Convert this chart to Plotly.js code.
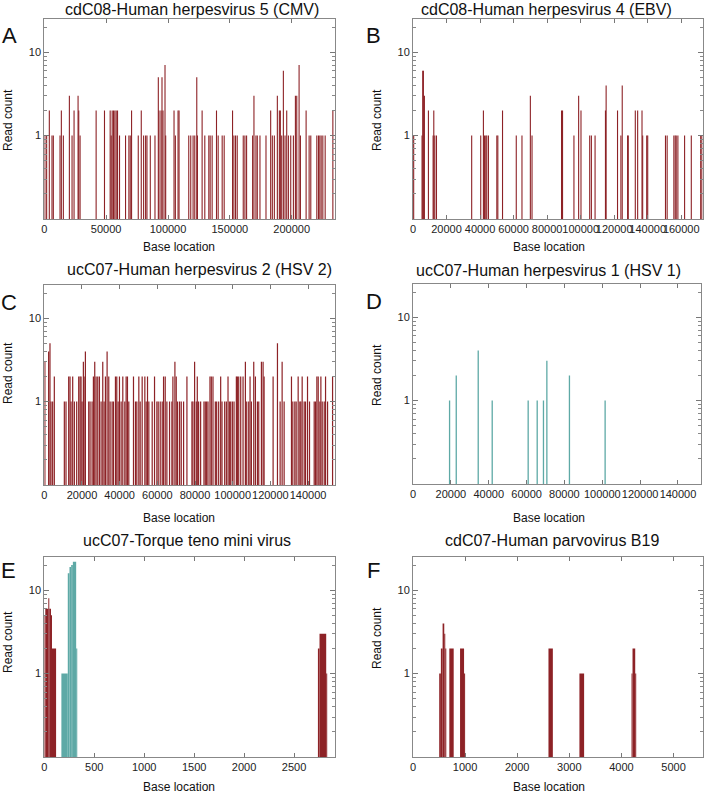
<!DOCTYPE html>
<html><head><meta charset="utf-8">
<script src="https://cdn.plot.ly/plotly-3.0.1.min.js"></script>
<style>html,body{margin:0;padding:0;background:#fff}#chart{width:707px;height:793px}</style>
</head><body><div id="chart"></div>
<script>
// ---------- DATA ----------
// A: cdC08 - Human herpesvirus 5 (CMV)
const cmvPos = [500,1892,4055,6217,7298,12704,13785,15407,20273,22435,24057,27300,27841,28922,41897,48654,53249,54060,54871,55952,57033,58115,59196,60818,65683,68386,69467,70548,75954,78387,80279,81901,82982,85685,89469,92172,92713,94335,95146,95957,97578,98119,104876,105958,108120,108931,116770,118391,120284,121635,123257,123797,127581,129744,132987,134069,135690,139204,140556,143800,145421,152179,153260,154612,155963,160829,162180,163532,168397,169478,171100,172181,174344,179209,182993,184345,185967,188399,190021,190832,191913,193265,194616,195968,197319,199211,201374,202996,204077,205969,207050,211645,214078,215429,220295,221646,222727,223808,225160,227052,233269];
const cmvCount = [1,1,2,1,1,1,2,1,3,1, 2,3,2,1,2,2,2,1,2,2, 2,2,2,1,1,1,1,2,1,2, 1,1,1,1,1,5,2,2,5,2, 7,1,2,1,2,2,1,1,1,1, 5,1,2,1,1,1,1,2,1,1, 1,2,1,1,1,1,1,1,1,3, 1,1,1,1,2,1,1,3,2,2, 1,6,1,2,1,1,1,3,3,7, 1,2,1,1,1,1,1,1,1,1, 2];

// B: cdC08 - Human herpesvirus 4 (EBV)
const ebvPos = [400,5400,5800,6200,6800,9200,12000,12400,13000,14000,35000,40400,42000,42600,43400,44000,45000,50000,50600,53400,61600,65000,70000,71000,88600,89200,96000,98800,100200,105400,106400,108600,114800,115200,122000,124000,124800,128000,128400,132600,134000,136600,137000,139400,140000,150600,151600,155600,156400,157000,158000,162000,166000,171600,172300];
const ebvCount = [1,1,6,6,3, 2,1,2,1,1, 1,1,2,1,1, 1,1,1,1,2, 1,1,3,1,2, 2,1,3,2,1, 1,1,2,4,2, 1,4,1,1,2, 2,2,1,1,1, 1,1,1,1,1, 1,1,1,1,1];

// C: ucC07 - Human herpesvirus 2 (HSV 2)
const hsv2Pos = [300,2305,3014,3546,4432,5319,10638,11524,12943,13652,
  14184,15071,15957,17198,18262,18971,19503,20035,20744,21099,
  21808,23581,24290,25354,26063,26772,27482,28368,29255,30141,
  31028,31737,32446,33333,34219,34928,35992,36701,37765,38474,
  39183,39893,40779,41666,42729,43439,44148,44857,47339,48403,
  49112,50176,50885,51949,53367,54076,54786,55495,57268,58509,
  59750,60459,61523,62587,63296,64182,65069,66488,67729,68261,
  69324,70034,70743,71807,72693,73934,75707,
  78366,78898,79785,80671,81203,81913,82976,84749,85459,86168,
  86877,87941,88650,89537,90778,91487,92551,93614,94324,95742,
  96629,97515,98224,98933,99820,100707,101948,102480,103189,104252,
  105493,106735,107444,108508,109217,109926,111167,112054,113118,113827,
  115245,116132,116664,121451,123756,125174,126238,127302,131202,131911,
  132975,133685,134748,135635,136166,136875,137939,138649,139712,140776,
  143258,143967,144677,145386,146273,146804,147513,148577,149286,150350,
  153010];
const hsv2Count = [3,4,5,1,1,2,1,1,2,2,
  1,2,1,1,2,2,2,1,3,2,
  4,1,1,1,2,3,2,2,2,1,
  3,1,2,4,2,1,1,1,2,2,
  1,2,1,2,1,2,2,1,2,1,
  1,2,1,2,2,1,2,1,1,2,
  1,1,1,1,2,2,1,1,1,2,
  3,2,1,1,1,1,2,
  1,1,3,1,2,1,1,1,1,1,
  1,2,2,2,1,1,1,2,1,1,
  1,2,1,1,1,1,2,2,2,2,
  2,3,1,1,2,1,3,2,1,1,
  3,3,2,2,5,1,3,1,2,1,
  1,1,2,1,1,2,1,1,2,1,
  1,1,2,2,1,2,1,1,2,1,
  2];

// D: ucC07 - Human herpesvirus 1 (HSV 1)
const hsv1Pos = [19320,22850,34460,41850,60850,65620,68930,70720,82650,101500];
const hsv1Count = [1,2,4,1,1,1,1,3,2,1];

// E: ucC07 - Torque teno mini virus (segments: start, end, count)
const ttmvRedStart = [0,10,40,50,67,77,2739,2755,2822];
const ttmvRedEnd   = [10,40,50,67,77,118,2755,2822,2832];
const ttmvRedCount = [5,6,8,6,5,2,2,3,1];
const ttmvTealStart = [171,235,252,269,286,319];
const ttmvTealEnd   = [235,252,269,286,319,330];
const ttmvTealCount = [1,16,19,20,22,2];

// F: cdC07 - Human parvovirus B19
const b19Start = [503,535,568,600,619,697,903,980,2600,3194,4194,4213,4265];
const b19End   = [535,568,600,619,639,781,980,1000,2684,3284,4213,4265,4284];
const b19Count = [1,2,4,3,2,2,2,1,2,1,1,2,1];

const titles = ['cdC08-Human herpesvirus 5 (CMV)','cdC08-Human herpesvirus 4 (EBV)','ucC07-Human herpesvirus 2 (HSV 2)','ucC07-Human herpesvirus 1 (HSV 1)','ucC07-Torque teno mini virus','cdC07-Human parvovirus B19'];
const letters = ['A','B','C','D','E','F'];
const xMax = [235000,172800,154300,152000,2910,5560];
const xDtick = [50000,20000,20000,20000,500,1000];

// ---------- STYLE / LAYOUT ----------
const RED = '#8d2226', TEAL = '#5ea9a6';
const W = 707, H = 793;
const FONT = 'Liberation Sans, Arial, sans-serif';
// plot rectangles in px: [left, right, top, bottom]
const rects = [
  [44.3,335,19,219],[413,702.7,19,219],
  [44.3,335,285,485],[413,700.7,284,484],
  [44.3,335,557,757],[413,702.7,557,757]
];
const titlePos = [[192,9.5],[546,9.5],[199,269.5],[548,270],[187,540],[552,540]];
const letterPos = [[9,35],[374,35],[9,302],[374,301],[8,570],[373,570]];
const ylabPos = [[8,120],[377,120],[8,373],[377,375],[8,642],[377,638]];
const xlabPos = [[179,247],[549,247],[179,518],[549,518],[179,787],[549,787]];

function pxW(i, px){ return xMax[i] * px / (rects[i][1]-rects[i][0]); }

const traces = [];
function spikes(i, pos, cnt, color, px){
  const n = Math.min(pos.length, cnt.length);
  traces.push({type:'bar', x:pos.slice(0,n), y:cnt.slice(0,n), width:pxW(i,px),
    marker:{color:color, line:{width:0}}, xaxis:'x'+(i?i+1:''), yaxis:'y'+(i?i+1:''),
    hoverinfo:'skip', showlegend:false});
}
function segs(i, s, e, c, color){
  const n = Math.min(s.length, e.length, c.length);
  const x=[], w=[], y=[];
  for(let k=0;k<n;k++){ x.push((s[k]+e[k])/2); w.push(e[k]-s[k]); y.push(c[k]); }
  traces.push({type:'bar', x:x, y:y, width:w, marker:{color:color, line:{width:0}},
    xaxis:'x'+(i?i+1:''), yaxis:'y'+(i?i+1:''), hoverinfo:'skip', showlegend:false});
}
spikes(0, cmvPos, cmvCount, RED, 1.1);
spikes(1, ebvPos, ebvCount, RED, 1.1);
spikes(2, hsv2Pos, hsv2Count, RED, 1.2);
spikes(3, hsv1Pos, hsv1Count, TEAL, 1.3);
segs(4, ttmvRedStart, ttmvRedEnd, ttmvRedCount, RED);
segs(4, ttmvTealStart, ttmvTealEnd, ttmvTealCount, TEAL);
segs(5, b19Start, b19End, b19Count, RED);

const layout = {
  width:W, height:H, margin:{l:0,r:0,t:0,b:0}, paper_bgcolor:'#fff', plot_bgcolor:'#fff',
  barmode:'overlay', showlegend:false, font:{family:FONT, size:11, color:'#222'},
  annotations:[]
};
const minorVals = [0.2,0.3,0.4,0.5,0.6,0.7,0.8,0.9,2,3,4,5,6,7,8,9,20];
for(let i=0;i<6;i++){
  const r = rects[i];
  const sx = i?String(i+1):'';
  layout['xaxis'+sx] = {
    domain:[r[0]/W, r[1]/W], anchor:'y'+sx, range:[0,xMax[i]], dtick:xDtick[i], tick0:0,
    tickformat:'d', tickangle:0,
    ticks:'inside', ticklen:4, tickcolor:'#777', showline:true, linecolor:'#888', linewidth:1,
    mirror:'ticks', showgrid:false, zeroline:false, tickfont:{size:11, color:'#222'}
  };
  layout['yaxis'+sx] = {
    domain:[1-r[3]/H, 1-r[2]/H], anchor:'x'+sx, type:'log', range:[-1, Math.log10(25)],
    tickmode:'array', tickvals:[1,10], ticktext:['1','10'],
    ticks:'inside', ticklen:5, tickcolor:'#777', showline:true, linecolor:'#888', linewidth:1,
    mirror:'ticks', showgrid:false, zeroline:false, tickfont:{size:11, color:'#222'},
    minor:{tickmode:'array', tickvals:minorVals, ticks:'inside', ticklen:3, tickcolor:'#888', showgrid:false}
  };
  const A = (p, text, size, extra) => layout.annotations.push(Object.assign({
    xref:'paper', yref:'paper', x:p[0]/W, y:1-p[1]/H, xanchor:'center', yanchor:'middle',
    text:text, showarrow:false, font:{family:FONT, size:size, color:'#111'}}, extra||{}));
  A(titlePos[i], titles[i], 16);
  A(letterPos[i], letters[i], 22);
  A(ylabPos[i], 'Read count', 12, {textangle:-90});
  A(xlabPos[i], 'Base location', 12);
}
Plotly.newPlot('chart', traces, layout, {staticPlot:true, displayModeBar:false});
</script>
</body></html>
